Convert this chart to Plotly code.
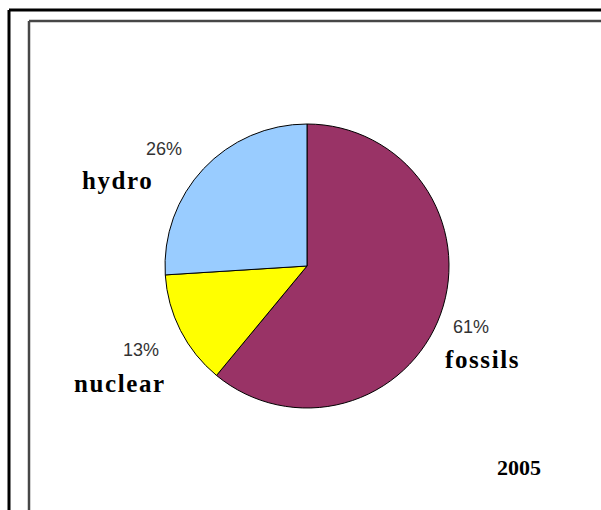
import plotly.graph_objects as go

# Electricity generation by source, 2005 (share in %)
sources = ["fossils", "nuclear", "hydro"]
shares = [61, 13, 26]
colors = ["#993366", "#FFFF00", "#99CCFF"]
year = "2005"

W, H = 601, 510


def px(x):
    return x / W


def py(y):
    return 1 - y / H


# pie centre and radius in pixels
cx, cy, r = 307, 266, 142

fig = go.Figure(
    go.Pie(
        labels=sources,
        values=shares,
        sort=False,
        direction="clockwise",
        rotation=0,
        marker=dict(colors=colors, line=dict(color="#000000", width=1)),
        textinfo="none",
        hoverinfo="label+percent",
        showlegend=False,
        domain=dict(x=[px(cx - r), px(cx + r)], y=[py(cy + r), py(cy - r)]),
    )
)

# label anchors (pixel centres) for percent and name of each slice
pct_pos = {"fossils": (471, 327), "nuclear": (141, 350), "hydro": (164, 149)}
name_pos = {"fossils": (483, 359), "nuclear": (120, 383), "hydro": (117, 180)}

annotations = []
for s, v in zip(sources, shares):
    x, y = pct_pos[s]
    annotations.append(dict(
        x=px(x), y=py(y), xref="paper", yref="paper", showarrow=False,
        text=f"{v}%", xanchor="center", yanchor="middle",
        font=dict(family="Liberation Sans, Arial", size=18, color="#333333"),
    ))
    x, y = name_pos[s]
    annotations.append(dict(
        x=px(x), y=py(y), xref="paper", yref="paper", showarrow=False,
        text=f"<span style='letter-spacing:1.6px'><b>{s}</b></span>",
        xanchor="center", yanchor="middle",
        font=dict(family="Liberation Serif, Times New Roman", size=25, color="#000000"),
    ))

annotations.append(dict(
    x=px(519), y=py(467), xref="paper", yref="paper", showarrow=False,
    text=f"<b>{year}</b>", xanchor="center", yanchor="middle",
    font=dict(family="Liberation Serif, Times New Roman", size=22, color="#000000"),
))

# frame lines: outer black and inner grey, open at right and bottom
shapes = [
    dict(type="line", xref="paper", yref="paper", x0=px(9), y0=py(10), x1=px(9), y1=0,
         line=dict(color="#000000", width=3)),
    dict(type="line", xref="paper", yref="paper", x0=px(9), y0=py(10), x1=1, y1=py(10),
         line=dict(color="#000000", width=3)),
    dict(type="line", xref="paper", yref="paper", x0=px(29), y0=py(21), x1=px(29), y1=0,
         line=dict(color="#474747", width=2.5)),
    dict(type="line", xref="paper", yref="paper", x0=px(29), y0=py(21), x1=1, y1=py(21),
         line=dict(color="#474747", width=2.5)),
]

fig.update_layout(
    width=W, height=H,
    margin=dict(l=0, r=0, t=0, b=0),
    paper_bgcolor="#FFFFFF",
    plot_bgcolor="#FFFFFF",
    annotations=annotations,
    shapes=shapes,
)

fig.write_html("out.html")
